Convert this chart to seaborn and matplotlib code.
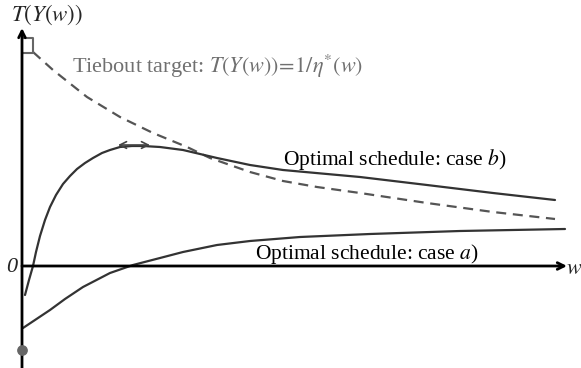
import matplotlib
matplotlib.use("Agg")
import matplotlib.pyplot as plt
import seaborn as sns

# curves (x = w, y = T(Y(w)), origin at the axes crossing)
case_b_x = [3, 7, 11, 14, 18, 23, 28, 34, 41, 48, 55, 63, 71, 80, 88, 98, 110, 121,
            138, 161, 195, 228, 261, 338, 405, 471, 533]
case_b_y = [-29, -14, 0, 14, 30, 46, 59, 71, 82, 90, 97, 103, 108, 113, 116, 119, 120, 120,
            119, 116, 108, 101, 96, 89, 81, 73, 66]

case_a_x = [1, 13, 28, 43, 61, 88, 111, 138, 161, 195, 228, 278, 348, 438, 543]
case_a_y = [-62, -54, -44, -33, -21, -7, 1, 8, 14, 21, 25, 29, 32, 35, 37]

tiebout_x = [11, 31, 65, 98, 131, 165, 188, 228, 261, 295, 338, 405, 471, 533]
tiebout_y = [214, 196, 169, 149, 133, 119, 108, 94, 85, 79, 73, 63, 54, 47]

# small marks
box_x = [1, 11, 11, 1]
box_y = [228, 228, 213, 213]
dot_x, dot_y = [0], [-84]
peak_arrow_x = [96, 128]
peak_arrow_y = [121, 121]

tiebout_label = r"Tiebout target: $T(Y(w))\!=\!1/\eta^{*}(w)$"
case_b_label = r"Optimal schedule: case $b$)"
case_a_label = r"Optimal schedule: case $a$)"
y_label = r"$T(Y(w))$"

sns.set_theme(style="white")
plt.rcParams["font.family"] = ["Liberation Serif", "DejaVu Serif"]
plt.rcParams["mathtext.fontset"] = "stix"

fig = plt.figure(figsize=(5.81, 3.68), dpi=100)
ax = fig.add_axes([0, 0, 1, 1])
ax.set_xlim(-22, 559)
ax.set_ylim(-102, 266)
ax.axis("off")

# axes with arrows
ax.annotate("", xy=(0, 238), xytext=(0, -102),
            arrowprops=dict(arrowstyle="->", color="black", lw=2, shrinkA=0, shrinkB=0))
ax.annotate("", xy=(545, 0), xytext=(0, 0),
            arrowprops=dict(arrowstyle="->", color="black", lw=2, shrinkA=0, shrinkB=0))

# curves
sns.lineplot(x=tiebout_x, y=tiebout_y, ax=ax, color="#555555", lw=1.6,
             sort=False, estimator=None)
ax.lines[-1].set_dashes((4.5, 3))
sns.lineplot(x=case_b_x, y=case_b_y, ax=ax, color="#333333", lw=1.6, sort=False, estimator=None)
sns.lineplot(x=case_a_x, y=case_a_y, ax=ax, color="#333333", lw=1.6, sort=False, estimator=None)

ax.plot(box_x, box_y, color="#666666", lw=1.5)
ax.scatter(dot_x, dot_y, s=45, color="#666666", zorder=5)
ax.annotate("", xy=(peak_arrow_x[1], peak_arrow_y[1]), xytext=(peak_arrow_x[0], peak_arrow_y[0]),
            arrowprops=dict(arrowstyle="<->", color="#444444", lw=1.2, shrinkA=0, shrinkB=0))

# text
ax.text(25, 251, y_label, fontsize=16.5, ha="center", va="center")
ax.text(-10, -1, "0", fontsize=16, style="italic", ha="center", va="center")
ax.text(544, -4, r"$w$", fontsize=16, ha="left", va="center")
ax.text(50, 193, tiebout_label, fontsize=16, color="#707070", ha="left", va="baseline")
ax.text(261, 101, case_b_label, fontsize=15.5, color="black", ha="left", va="baseline")
ax.text(233, 7, case_a_label, fontsize=15.5, color="black", ha="left", va="baseline")

fig.savefig("out.png", dpi=100)
